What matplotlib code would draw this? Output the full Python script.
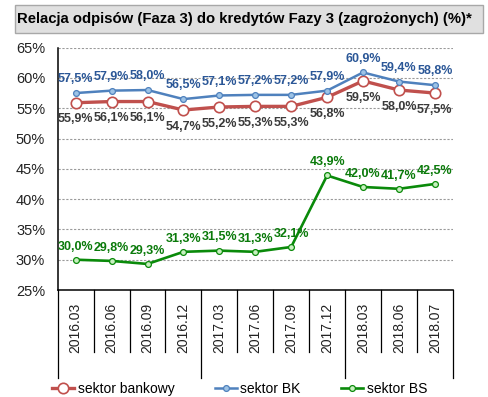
import matplotlib.pyplot as plt
from matplotlib.lines import Line2D
from matplotlib.patches import Rectangle
import matplotlib.transforms as mtransforms

plt.rcParams['font.family'] = ['Liberation Sans', 'DejaVu Sans']

periods = ['2016.03', '2016.06', '2016.09', '2016.12', '2017.03', '2017.06',
           '2017.09', '2017.12', '2018.03', '2018.06', '2018.07']
bankowy = [55.9, 56.1, 56.1, 54.7, 55.2, 55.3, 55.3, 56.8, 59.5, 58.0, 57.5]
bk = [57.5, 57.9, 58.0, 56.5, 57.1, 57.2, 57.2, 57.9, 60.9, 59.4, 58.8]
bs = [30.0, 29.8, 29.3, 31.3, 31.5, 31.3, 32.1, 43.9, 42.0, 41.7, 42.5]


def pct(v):
    return f"{v:.1f}%".replace('.', ',')


fig = plt.figure(figsize=(4.89, 3.97), dpi=100)
ax = fig.add_axes([0.118, 0.2695, 0.808, 0.6106])

x = list(range(len(periods)))

ax.plot(x, bankowy, color='#c0504d', lw=2.4, marker='o', ms=7.5,
        mfc='white', mec='#c0504d', mew=1.2, label='sektor bankowy', zorder=3)
ax.plot(x, bk, color='#4f81bd', lw=1.8, marker='o', ms=4.2,
        mfc='#9dc3e6', mec='#4f81bd', mew=0.9, label='sektor BK', zorder=4)
ax.plot(x, bs, color='#0a8a0a', lw=1.9, marker='o', ms=4.2,
        mfc='#c8f0c0', mec='#0a8a0a', mew=0.9, label='sektor BS', zorder=3)

lab = dict(ha='center', va='center', fontsize=9, fontweight='bold',
           textcoords='offset points')
for i in x:
    ax.annotate(pct(bk[i]), (i, bk[i]), xytext=(0, 10), color='#2b5797', **lab)
    ax.annotate(pct(bankowy[i]), (i, bankowy[i]), xytext=(0, -12),
                color='#3a3a3a', **lab)
    ax.annotate(pct(bs[i]), (i, bs[i]), xytext=(0, 9.5), color='#0a7a0a', **lab)

ax.set_xlim(-0.5, len(periods) - 0.5)
ax.set_ylim(25, 65)
ax.set_yticks(range(25, 70, 5))
ax.set_yticklabels([f"{v}%" for v in range(25, 70, 5)], fontsize=10.5,
                   color='#222222')
ax.set_xticks(x)
ax.set_xticklabels(periods, rotation=90, fontsize=10, color='#222222')
ax.tick_params(axis='both', length=0)
ax.tick_params(axis='y', pad=9)
ax.tick_params(axis='x', pad=9)
for t in ax.get_xticklabels():
    t.set_va('top')

ax.grid(axis='y', color='#9a9a9a', ls=(0, (2, 1.5)), lw=0.8)
for s in ['top', 'right']:
    ax.spines[s].set_visible(False)
ax.spines['left'].set_color('black')
ax.spines['bottom'].set_color('black')
ax.spines['left'].set_linewidth(1.1)
ax.spines['bottom'].set_linewidth(1.1)

# category separators below the axis, longer ones between years
trans = mtransforms.blended_transform_factory(ax.transData, fig.transFigure)
y0 = 1 - 290 / 397
for k in range(len(periods) + 1):
    long_line = k in (0, 4, 8, len(periods))
    y1 = 1 - (378 if long_line else 352) / 397
    fig.add_artist(Line2D([k - 0.5, k - 0.5], [y0, y1], transform=trans,
                          color='black', lw=0.9))

# title box
fig.add_artist(Rectangle((15 / 489, 1 - 33 / 397), 468 / 489, 28 / 397,
                         transform=fig.transFigure, facecolor='#e0e0e0',
                         edgecolor='#a8a8a8', lw=1.0))
fig.text(0.5, 1 - 19 / 397,
         'Relacja odpisów (Faza 3) do kredytów Fazy 3 (zagrożonych) (%)*',
         ha='center', va='center', fontsize=10.7, fontweight='bold')

fig.legend(loc='center', bbox_to_anchor=(0.49, 1 - 389 / 397), ncol=3,
           frameon=False, fontsize=10, handlelength=1.6, handletextpad=0.25,
           columnspacing=2.9, borderaxespad=0)

fig.savefig('out.png', dpi=100)
